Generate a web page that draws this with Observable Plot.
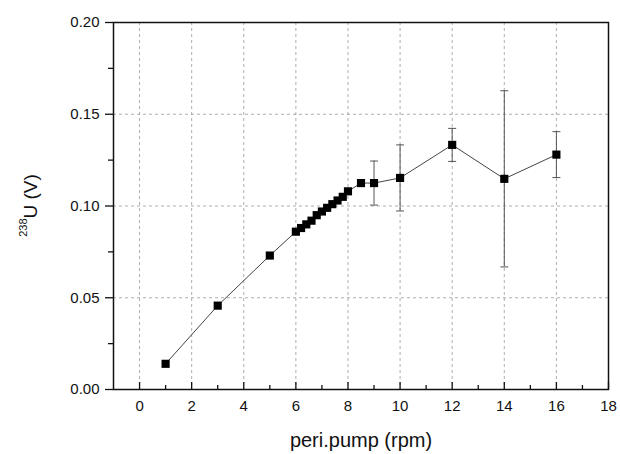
<!DOCTYPE html>
<html>
<head>
<meta charset="utf-8">
<script src="https://cdn.jsdelivr.net/npm/d3@7"></script>
<script src="https://cdn.jsdelivr.net/npm/@observablehq/plot@0.6"></script>
<style>
  html, body { margin: 0; padding: 0; background: #fff; }
  svg { font-family: "Liberation Sans", Arial, sans-serif; }
</style>
</head>
<body>
<div id="chart"></div>
<script>
// Data
const pumpRpm = [1, 3, 5, 6, 6.2, 6.4, 6.6, 6.8, 7, 7.2, 7.4, 7.6, 7.8, 8, 8.5, 9, 10, 12, 14, 16];
const u238 = [0.014, 0.0457, 0.073, 0.086, 0.088, 0.090, 0.092, 0.095, 0.097, 0.099, 0.101, 0.103, 0.105, 0.108, 0.1125, 0.1125, 0.1153, 0.1333, 0.1148, 0.128];
const u238Err = [0, 0, 0, 0, 0, 0, 0, 0, 0, 0, 0, 0, 0, 0, 0, 0.012, 0.018, 0.009, 0.048, 0.0125];

const xMajor = [0, 2, 4, 6, 8, 10, 12, 14, 16, 18];
const xMinor = [1, 3, 5, 7, 9, 11, 13, 15, 17];
const xGrid = [0, 2, 4, 6, 8, 10, 12, 14, 16];
const yMajor = [0, 0.05, 0.10, 0.15, 0.20];
const yMinor = [0.025, 0.075, 0.125, 0.175];
const yGrid = [0.05, 0.10, 0.15];
const xLabel = "peri.pump (rpm)";

const data = pumpRpm.map((x, i) => ({x, y: u238[i], e: u238Err[i]}));
const errData = data.filter(d => d.e > 0);

const W = 620, H = 454;
const mL = 113, mR = 12, mT = 22, mB = 65;
const innerH = H - mT - mB;

const capSymbol = {
  draw(context, size) {
    const w = Math.sqrt(size) / 2;
    context.moveTo(-w, 0);
    context.lineTo(w, 0);
  }
};

const plot = Plot.plot({
  width: W,
  height: H,
  marginLeft: mL,
  marginRight: mR,
  marginTop: mT,
  marginBottom: mB,
  style: {fontFamily: "Liberation Sans, Arial, sans-serif", fontSize: "15px", color: "#111", background: "transparent"},
  x: {domain: [-1, 18]},
  y: {domain: [0, 0.20]},
  marks: [
    Plot.gridX(xGrid, {stroke: "#999", strokeOpacity: 1, strokeDasharray: "3,3", strokeWidth: 0.8}),
    Plot.gridY(yGrid, {stroke: "#999", strokeOpacity: 1, strokeDasharray: "3,3", strokeWidth: 0.8}),
    // x axis labels (no outward ticks)
    Plot.axisX(xMajor, {anchor: "bottom", tickSize: 0, tickPadding: 11, label: null, fontSize: 15, tickFormat: d => String(d)}),
    // inward x ticks
    Plot.tickX(xMajor, {x: d => d, insetTop: innerH - 7, stroke: "#111", strokeWidth: 1.3}),
    Plot.tickX(xMinor, {x: d => d, insetTop: innerH - 4, stroke: "#111", strokeWidth: 1.3}),
    // y axis (outward ticks)
    Plot.axisY(yMajor, {anchor: "left", tickSize: 8, tickPadding: 6, label: null, fontSize: 15, tickFormat: d3.format(".2f"), strokeWidth: 1.3}),
    Plot.axisY(yMinor, {anchor: "left", tickSize: 5, text: null, label: null, strokeWidth: 1.3}),
    // line
    Plot.line(data, {x: "x", y: "y", stroke: "#444", strokeWidth: 1}),
    // error bars
    Plot.ruleX(errData, {x: "x", y1: d => d.y - d.e, y2: d => d.y + d.e, stroke: "#555", strokeWidth: 1}),
    Plot.dot(errData, {x: "x", y: d => d.y + d.e, symbol: capSymbol, r: 4.5, stroke: "#555", strokeWidth: 1}),
    Plot.dot(errData, {x: "x", y: d => d.y - d.e, symbol: capSymbol, r: 4.5, stroke: "#555", strokeWidth: 1}),
    // markers
    Plot.dot(data, {x: "x", y: "y", symbol: "square", r: 4.6, fill: "#000", stroke: "none"}),
    Plot.frame({stroke: "#111", strokeWidth: 1.5}),
    // x axis title
    Plot.text([xLabel], {frameAnchor: "bottom", text: d => d, dy: 57, fontSize: 20, fill: "#111"})
  ]
});

document.getElementById("chart").appendChild(plot);

// y axis title with superscript
const yr = plot.scale("y").range;
const cy = (yr[0] + yr[1]) / 2;
const svg = d3.select(plot);
const t = svg.append("text")
  .attr("transform", `translate(33,${cy}) rotate(-90)`)
  .attr("text-anchor", "middle")
  .attr("font-size", 19)
  .attr("fill", "#111")
  .attr("font-family", "Liberation Sans, Arial, sans-serif");
t.append("tspan").attr("font-size", 11).attr("dy", "-0.55em").text("238");
t.append("tspan").attr("dy", "0.55em").text("U (V)");
</script>
</body>
</html>
